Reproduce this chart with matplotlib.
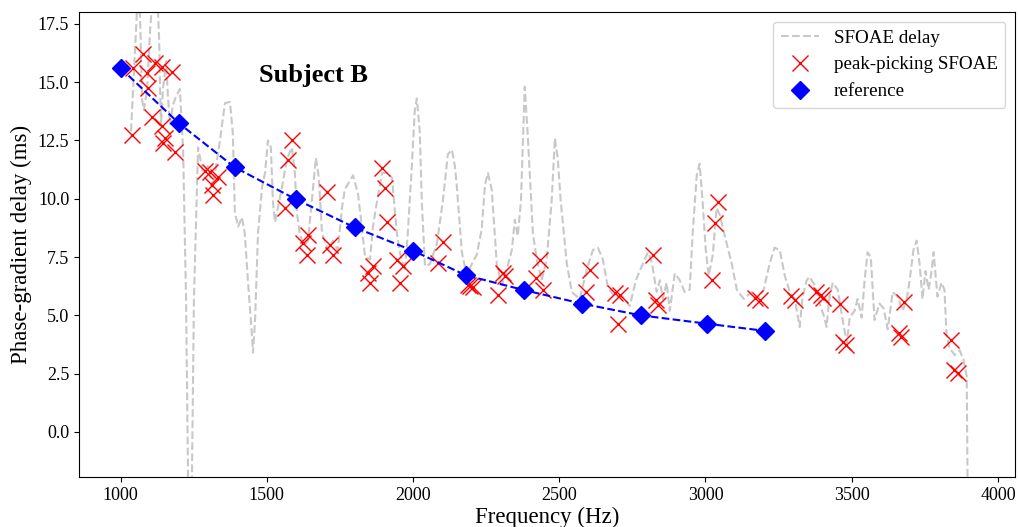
import matplotlib
matplotlib.use("Agg")
import matplotlib.pyplot as plt

plt.rcParams["font.family"] = ["Liberation Serif", "DejaVu Serif"]

# SFOAE phase-gradient delay curve (Hz, ms)
sfoae_f = [1036, 1046, 1056, 1062, 1067, 1074, 1080, 1091, 1101, 1111, 1125, 1132,
           1138, 1145, 1156, 1162, 1169, 1179, 1190, 1203, 1214, 1224, 1231, 1238,
           1244, 1251, 1265, 1282, 1299, 1316, 1340, 1357, 1374, 1384, 1391, 1402,
           1415, 1425, 1436, 1449, 1453, 1460, 1470, 1484, 1494, 1504, 1514, 1521,
           1528, 1538, 1552, 1569, 1586, 1596, 1603, 1613, 1627, 1641, 1654, 1668,
           1678, 1689, 1709, 1726, 1743, 1757, 1767, 1795, 1812, 1825, 1836, 1853,
           1863, 1877, 1894, 1911, 1928, 1935, 1945, 1955, 1972, 1982, 1996, 2006,
           2013, 2023, 2030, 2041, 2058, 2082, 2102, 2119, 2133, 2143, 2150, 2167,
           2184, 2201, 2218, 2235, 2246, 2256, 2269, 2287, 2304, 2321, 2338, 2348,
           2358, 2369, 2382, 2392, 2410, 2423, 2440, 2457, 2474, 2485, 2495, 2505,
           2526, 2543, 2570, 2597, 2615, 2632, 2649, 2666, 2690, 2717, 2741, 2762,
           2775, 2803, 2816, 2833, 2844, 2854, 2867, 2878, 2895, 2912, 2929, 2946,
           2956, 2970, 2980, 2990, 3001, 3011, 3025, 3038, 3049, 3066, 3090, 3107,
           3131, 3158, 3178, 3199, 3219, 3236, 3254, 3271, 3288, 3305, 3315, 3322,
           3332, 3346, 3356, 3373, 3390, 3404, 3414, 3424, 3435, 3452, 3469, 3483,
           3493, 3510, 3520, 3534, 3544, 3554, 3565, 3578, 3595, 3609, 3623, 3640,
           3657, 3674, 3688, 3698, 3711, 3722, 3732, 3742, 3752, 3763, 3773, 3780,
           3793, 3807, 3817, 3824, 3834, 3852, 3869, 3882, 3893, 3896, 3899]
sfoae_d = [12.9, 15.5, 18.0, 19.0, 17.7, 14.2, 13.8, 14.7, 17.2, 19.0, 19.0, 16.8,
           13.1, 14.7, 15.9, 14.4, 13.2, 14.0, 14.4, 14.7, 12.1, 5.7, -2.1, -3.8,
           -2.1, 5.7, 12.2, 11.1, 11.4, 10.5, 12.5, 14.1, 14.15, 12.8, 9.4, 8.8,
           9.2, 8.5, 6.4, 4.2, 3.4, 4.8, 8.5, 10.5, 11.1, 12.5, 12.2, 9.9,
           9.0, 9.6, 10.5, 11.7, 12.2, 11.1, 9.4, 8.5, 8.0, 8.2, 9.9, 11.75,
           10.9, 8.5, 7.8, 8.2, 7.8, 9.6, 10.4, 11.0, 10.2, 8.8, 7.5, 7.4,
           8.8, 9.9, 11.1, 11.1, 10.9, 9.9, 8.5, 7.7, 6.9, 8.5, 11.4, 13.8,
           14.3, 12.9, 9.9, 7.1, 7.2, 8.1, 9.9, 11.9, 12.1, 11.4, 10.5, 7.7,
           6.7, 7.2, 7.6, 8.7, 10.6, 11.1, 10.4, 7.1, 6.3, 7.0, 7.8, 9.1,
           8.4, 9.9, 14.8, 12.8, 8.5, 7.4, 6.5, 7.4, 9.9, 12.6, 11.7, 9.9,
           7.2, 6.0, 5.7, 7.1, 7.8, 7.9, 7.4, 6.2, 5.8, 5.8, 5.4, 6.5,
           6.9, 7.7, 7.3, 6.0, 6.5, 5.7, 6.4, 5.2, 6.8, 6.5, 6.0, 6.1,
           8.5, 11.0, 11.5, 9.9, 7.8, 6.7, 7.6, 9.6, 9.3, 8.4, 7.2, 6.1,
           5.7, 6.0, 5.7, 6.1, 7.2, 7.9, 7.8, 6.7, 6.0, 5.7, 5.0, 4.5,
           5.8, 6.5, 6.65, 6.3, 5.5, 5.0, 4.5, 5.8, 6.4, 6.1, 4.8, 3.8,
           4.9, 5.2, 5.7, 4.9, 6.5, 7.7, 7.5, 4.8, 5.5, 5.3, 4.4, 6.0,
           5.8, 5.2, 5.7, 6.5, 7.8, 8.2, 7.2, 5.7, 6.9, 6.1, 6.9, 7.7,
           5.8, 6.4, 6.1, 4.2, 3.6, 3.3, 3.5, 3.1, 2.4, -2.1, -3.8]

# peak-picking SFOAE estimates
peak_f = [1038, 1044, 1076, 1090, 1095, 1107, 1118, 1141, 1141, 1146, 1152, 1175,
          1186, 1289, 1306, 1312, 1317, 1334, 1562, 1573, 1585, 1625, 1636, 1642,
          1705, 1716, 1727, 1847, 1853, 1864, 1893, 1904, 1910, 1944, 1955, 1966,
          2086, 2103, 2188, 2196, 2205, 2291, 2308, 2314, 2422, 2433, 2445, 2593,
          2604, 2690, 2701, 2707, 2821, 2832, 2838, 3021, 3032, 3043, 3168, 3185,
          3293, 3305, 3379, 3396, 3401, 3459, 3470, 3481, 3663, 3669, 3680, 3840,
          3851, 3863]
peak_d = [12.73, 15.6, 16.2, 15.4, 14.73, 13.5, 15.8, 15.65, 13.1, 12.4, 12.6, 15.45,
          12.0, 11.2, 11.15, 10.6, 10.15, 10.95, 9.6, 11.65, 12.5, 8.1, 7.6, 8.45,
          10.3, 8.0, 7.6, 6.8, 6.4, 7.1, 11.3, 10.45, 9.0, 7.37, 6.4, 7.1,
          7.23, 8.16, 6.3, 6.25, 6.2, 5.87, 6.8, 6.7, 6.6, 7.37, 6.1, 6.0,
          6.95, 5.95, 4.63, 5.87, 7.6, 5.66, 5.44, 6.5, 8.94, 9.87, 5.73, 5.66,
          5.82, 5.66, 6.0, 5.87, 5.73, 5.5, 3.87, 3.73, 4.23, 4.09, 5.58, 3.94,
          2.66, 2.51]

# reference delays
ref_f = [1000, 1200, 1390, 1600, 1800, 2000, 2180, 2380, 2578, 2778, 3005, 3205]
ref_d = [15.6, 13.23, 11.35, 9.97, 8.77, 7.77, 6.72, 6.08, 5.5, 5.0, 4.64, 4.33]

fig = plt.figure(figsize=(10.18, 5.27), dpi=100)
ax = fig.add_axes([0.0776, 0.095, 0.9194, 0.882])

ax.plot(sfoae_f, sfoae_d, "--", color="#c8c8c8", lw=1.5, label="SFOAE delay")
ax.plot(peak_f, peak_d, "x", color="r", ms=11, mew=1.0, label="peak-picking SFOAE")
ax.plot(ref_f, ref_d, "--", color="b", lw=1.5)
ax.plot(ref_f, ref_d, "D", color="b", ms=9.5, label="reference")

ax.text(1475, 15.0, "Subject B", fontsize=19, fontweight="bold")

ax.set_xlim(858, 4058)
ax.set_ylim(-1.93, 18.0)
ax.set_xticks([1000, 1500, 2000, 2500, 3000, 3500, 4000])
ax.set_yticks([0.0, 2.5, 5.0, 7.5, 10.0, 12.5, 15.0, 17.5])
ax.tick_params(labelsize=13)
ax.set_xlabel("Frequency (Hz)", fontsize=16.5, labelpad=2)
ax.set_ylabel("Phase-gradient delay (ms)", fontsize=16.5)
ax.legend(loc="upper right", fontsize=13.7)

fig.savefig("out.png", dpi=100)
